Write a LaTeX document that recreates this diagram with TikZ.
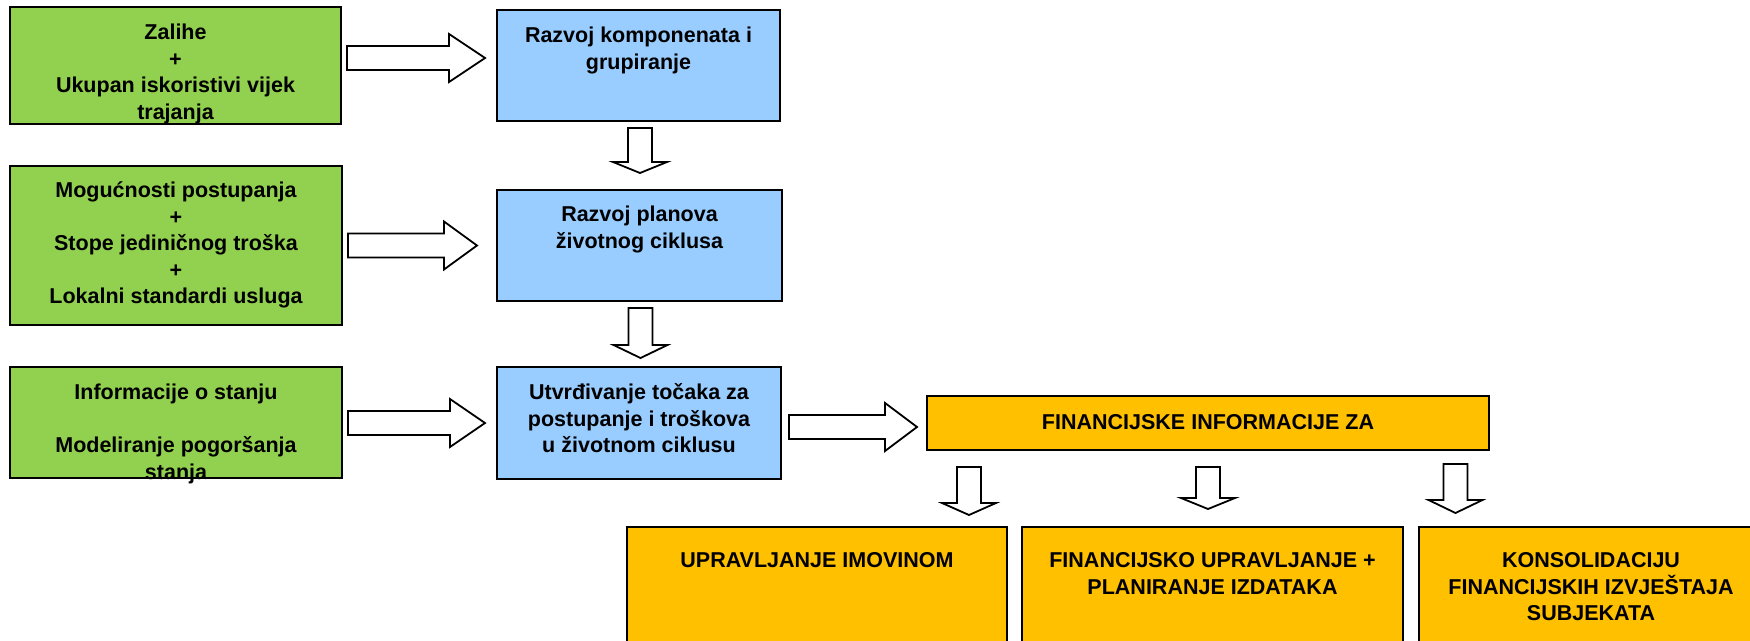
\documentclass[tikz,border=0pt]{standalone}
\usepackage{fontspec}
\setmainfont{Liberation Sans}
\definecolor{boxgreen}{HTML}{92D050}
\definecolor{boxblue}{HTML}{99CCFF}
\definecolor{boxorange}{HTML}{FFC000}
\newcommand\fstrut{\rule{0pt}{22pt}}
\newcommand\blockright[4]{%
  \draw[barrow] (#1,#3-12) -- (#4,#3-12) -- (#4,#3-24) -- (#2,#3) -- (#4,#3+24) -- (#4,#3+12) -- (#1,#3+12) -- cycle;}
\newcommand\blockdown[4]{%
  \draw[barrow] (#1-12,#2) -- (#1+12,#2) -- (#1+12,#4) -- (#1+27,#4) -- (#1,#3) -- (#1-27,#4) -- (#1-12,#4) -- cycle;}
\begin{document}
\begin{tikzpicture}[x=1pt,y=-1pt,
  box/.style={draw=black,line width=1.8pt,inner sep=0pt,outer sep=0pt},
  gbox/.style={box,fill=boxgreen},
  bbox/.style={box,fill=boxblue},
  obox/.style={box,fill=boxorange},
  txt/.style={anchor=north,align=center,inner sep=0pt,font=\fontsize{21.5}{26.5}\selectfont\bfseries},
  barrow/.style={draw=black,fill=white,line width=1.8pt,line join=miter}]
\useasboundingbox (0,0) rectangle (1750,640);
\clip (0,0) rectangle (1750,640);
\fill[white] (0,0) rectangle (1750,640);
% boxes
\node[gbox,minimum width=331pt,minimum height=117pt] (g1) at (175.5,65.5) {};
\node[bbox,minimum width=283pt,minimum height=111pt] (b1) at (638.5,65.5) {};
\node[gbox,minimum width=332pt,minimum height=159pt] (g2) at (176,245.5) {};
\node[bbox,minimum width=285pt,minimum height=111pt] (b2) at (639.5,245.5) {};
\node[gbox,minimum width=332pt,minimum height=111pt] (g3) at (176,422.5) {};
\node[bbox,minimum width=284pt,minimum height=112pt] (b3) at (639,423) {};
\node[obox,minimum width=562pt,minimum height=54pt] (o1) at (1208,423) {};
\node[obox,minimum width=380pt,minimum height=153pt] (o2) at (817,603.5) {};
\node[obox,minimum width=381pt,minimum height=153pt] (o3) at (1212.5,603.5) {};
\node[obox,minimum width=344pt,minimum height=153pt] (o4) at (1591,603.5) {};
% texts
\node[txt] (tg1) at (175.5,17.7) {\fstrut Zalihe\\+\\Ukupan iskoristivi vijek\\trajanja};
\node[txt] (tb1) at (638.5,20.7) {\fstrut Razvoj komponenata i\\grupiranje};
\node[txt] (tg2) at (176,175.7) {\fstrut Mogućnosti postupanja\\+\\Stope jediničnog troška\\+\\Lokalni standardi usluga};
\node[txt] (tb2) at (639.5,199.7) {\fstrut Razvoj planova\\životnog ciklusa};
\node[txt] (tg3) at (176,377.7) {\fstrut Informacije o stanju\\[26.5pt]Modeliranje pogoršanja\\stanja};
\node[txt] (tb3) at (639,377.7) {\fstrut Utvrđivanje točaka za\\postupanje i troškova\\u životnom ciklusu};
\node[txt] (to1) at (1208,407.7) {\fstrut FINANCIJSKE INFORMACIJE ZA};
\node[txt] (to2) at (817,545.7) {\fstrut UPRAVLJANJE IMOVINOM};
\node[txt] (to3) at (1212.5,545.7) {\fstrut FINANCIJSKO UPRAVLJANJE +\\PLANIRANJE IZDATAKA};
\node[txt] (to4) at (1591,545.7) {\fstrut KONSOLIDACIJU\\FINANCIJSKIH IZVJEŠTAJA\\SUBJEKATA};
% block arrows
\blockright{347}{485}{58}{449}
\blockright{348}{477}{245.5}{444}
\blockright{348}{485}{423}{450}
\blockright{789}{917}{427}{885}
\blockdown{640}{128}{173}{162}
\blockdown{640.5}{308}{358}{345}
\blockdown{969}{467}{515}{503}
\blockdown{1208}{467}{509}{498}
\blockdown{1455.5}{464}{513}{500}
\end{tikzpicture}
\end{document}
